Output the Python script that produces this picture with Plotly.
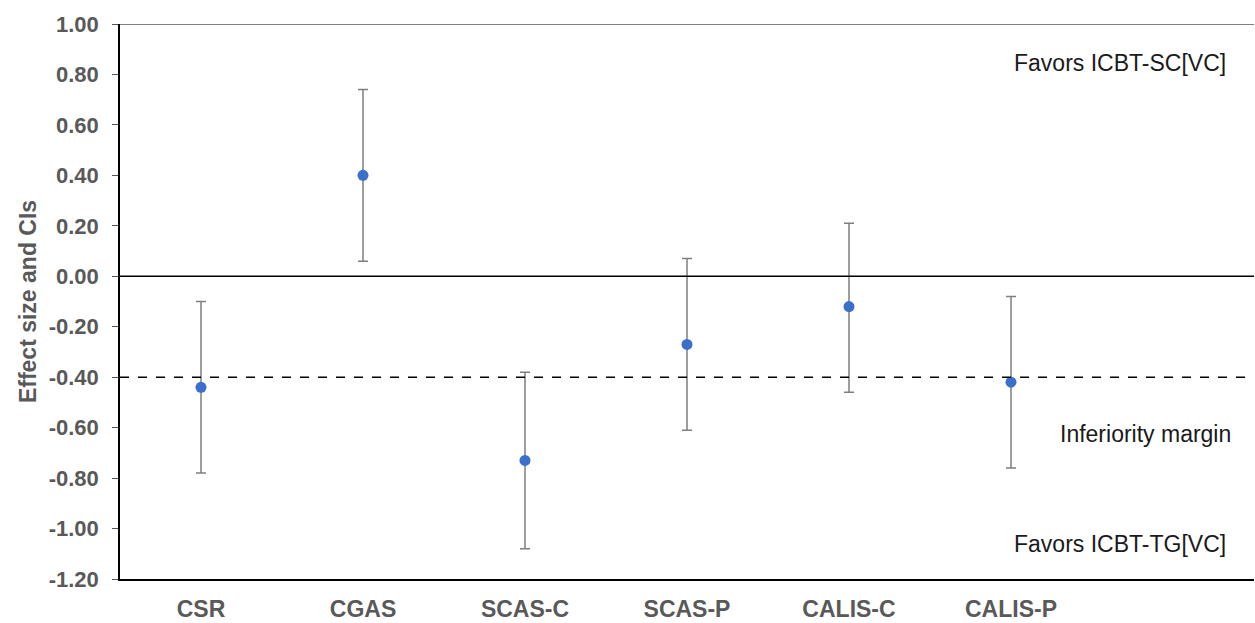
import plotly.graph_objects as go

# Outcome measures and their effect sizes with 95% confidence bounds
measures = ["CSR", "CGAS", "SCAS-C", "SCAS-P", "CALIS-C", "CALIS-P"]
effect = [-0.44, 0.40, -0.73, -0.27, -0.12, -0.42]
ci_lower = [-0.78, 0.06, -1.08, -0.61, -0.46, -0.76]
ci_upper = [-0.10, 0.74, -0.38, 0.07, 0.21, -0.08]

margin_value = -0.40
y_ticks = [1.0, 0.8, 0.6, 0.4, 0.2, 0.0, -0.2, -0.4, -0.6, -0.8, -1.0, -1.2]

FONT = "Liberation Sans, Arial, Helvetica, sans-serif"

xpos = list(range(len(measures)))
err_plus = [u - e for u, e in zip(ci_upper, effect)]
err_minus = [e - l for e, l in zip(effect, ci_lower)]

fig = go.Figure()
fig.add_trace(go.Scatter(
    x=xpos, y=effect, mode="markers",
    marker=dict(color="#3a6fcc", size=11),
    error_y=dict(type="data", symmetric=False, array=err_plus, arrayminus=err_minus,
                 color="#7f7f7f", thickness=1.5, width=5),
    showlegend=False,
))

# zero reference line and top border
fig.add_shape(type="line", xref="paper", x0=0, x1=1, yref="y", y0=0, y1=0,
              line=dict(color="black", width=1.5))
fig.add_shape(type="line", xref="paper", x0=0, x1=1, yref="y", y0=1.0, y1=1.0,
              line=dict(color="#555555", width=1.5))
# inferiority margin
fig.add_shape(type="line", xref="paper", x0=0, x1=1, yref="y",
              y0=margin_value, y1=margin_value,
              line=dict(color="black", width=1.5, dash="dash"))

ann_font = dict(family=FONT, size=23, color="#1a1a1a")
fig.add_annotation(x=5.67, y=0.845, text="Favors ICBT-SC[VC]", showarrow=False, font=ann_font)
fig.add_annotation(x=5.83, y=-0.625, text="Inferiority margin", showarrow=False, font=ann_font)
fig.add_annotation(x=5.67, y=-1.06, text="Favors ICBT-TG[VC]", showarrow=False, font=ann_font)

fig.update_layout(
    width=1255, height=623,
    margin=dict(l=120, r=1, t=24, b=42),
    paper_bgcolor="white", plot_bgcolor="white",
    font=dict(family=FONT),
    xaxis=dict(
        range=[-0.5, 6.5], tickmode="array", tickvals=xpos,
        ticktext=["<b>%s</b>" % m for m in measures],
        tickfont=dict(family=FONT, size=23, color="#595959"),
        showgrid=False, zeroline=False,
        showline=True, linecolor="black", linewidth=1.5,
        ticks="", ticklabelstandoff=9,
    ),
    yaxis=dict(
        range=[-1.2, 1.0], tickmode="array", tickvals=y_ticks,
        ticktext=["<b>%.2f</b>" % v for v in y_ticks],
        tickfont=dict(family=FONT, size=22, color="#595959"),
        showgrid=False, zeroline=False,
        showline=True, linecolor="black", linewidth=1.5,
        ticks="outside", ticklen=6, tickcolor="#555555", tickwidth=1,
        ticklabelstandoff=9,
        title=dict(text="<b>Effect size and CIs</b>",
                   font=dict(family=FONT, size=23, color="#595959"),
                   standoff=6),
    ),
)

fig.write_html("out.html")
